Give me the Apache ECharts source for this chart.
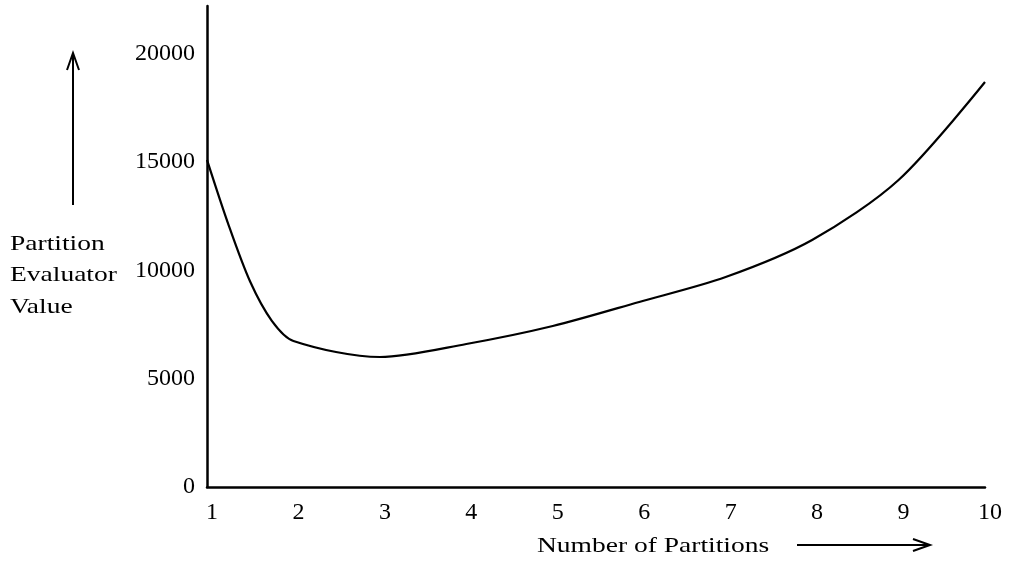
<!DOCTYPE html>
<html>
<head>
<meta charset="utf-8">
<script src="https://cdn.jsdelivr.net/npm/echarts@6/dist/echarts.min.js"></script>
<style>html,body{margin:0;padding:0;background:#fff;}#c{width:1013px;height:561px;}</style>
</head>
<body>
<div id="c"></div>
<script>
const partitions = [1, 1.25, 1.5, 1.75, 2, 3, 4, 5, 6, 7, 8, 9, 10];
const evaluatorValues = [15100, 12090, 9470, 7670, 6740, 6000, 6600, 7430, 8540, 9690, 11400, 14170, 18690];
const xTickLabels = [1, 2, 3, 4, 5, 6, 7, 8, 9, 10];
const yTickLabels = [0, 5000, 10000, 15000, 20000];
const xTitle = 'Number of Partitions';
const yTitle = 'Partition\nEvaluator\nValue';

const font = '"Liberation Serif", "Times New Roman", serif';
const chart = echarts.init(document.getElementById('c'));
chart.setOption({
  animation: false,
  backgroundColor: '#fff',
  grid: { left: 207, right: 28, top: 6, bottom: 74, containLabel: false },
  xAxis: {
    type: 'value', min: 1, max: 10, interval: 1,
    axisLine: { show: true, lineStyle: { color: '#000', width: 2.5 } },
    axisTick: { show: false },
    splitLine: { show: false },
    axisLabel: {
      color: '#000', fontFamily: font, fontSize: 24, margin: 14, padding: [0, 0, 0, 10],
      formatter: v => (xTickLabels.indexOf(v) >= 0 ? String(v) : '')
    }
  },
  yAxis: {
    type: 'value', min: 0, max: 22200, interval: 5000,
    axisLine: { show: true, lineStyle: { color: '#000', width: 2.5 } },
    axisTick: { show: false },
    splitLine: { show: false },
    axisLabel: {
      color: '#000', fontFamily: font, fontSize: 24, margin: 12,
      formatter: v => (yTickLabels.indexOf(v) >= 0 ? String(v) : '')
    }
  },
  series: [{
    type: 'line',
    data: partitions.map((p, i) => [p, evaluatorValues[i]]),
    smooth: 0.3,
    symbol: 'none',
    lineStyle: { color: '#000', width: 2.2 }
  }],
  graphic: [
    { type: 'text', left: 10, top: 228, scaleX: 1.25, style: { text: yTitle, font: '22px ' + font, fill: '#000', lineHeight: 31.5 } },
    { type: 'text', left: 537, top: 535, scaleX: 1.25, style: { text: xTitle, font: '22px ' + font, fill: '#000' } },
    { type: 'line', shape: { x1: 73, y1: 205, x2: 73, y2: 54 }, style: { stroke: '#000', lineWidth: 2 } },
    { type: 'polyline', shape: { points: [[67, 70], [73, 53], [79, 70]] }, style: { stroke: '#000', lineWidth: 2, fill: null } },
    { type: 'line', shape: { x1: 797, y1: 545, x2: 930, y2: 545 }, style: { stroke: '#000', lineWidth: 2 } },
    { type: 'polyline', shape: { points: [[913, 539], [930, 545], [913, 551]] }, style: { stroke: '#000', lineWidth: 2, fill: null } }
  ]
});
</script>
</body>
</html>
